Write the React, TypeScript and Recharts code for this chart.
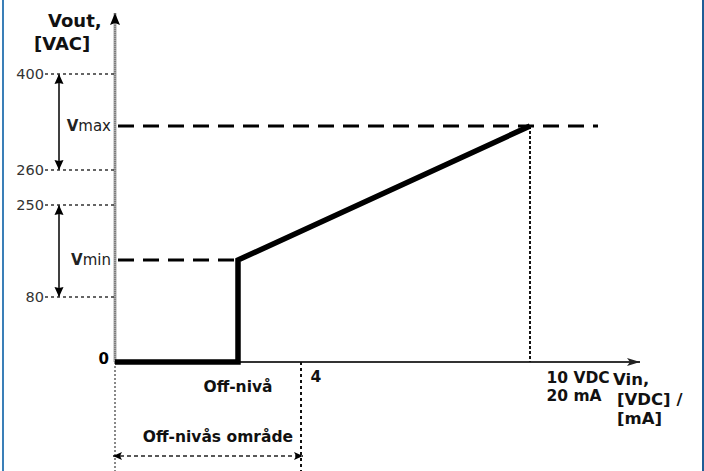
import React from 'react';
import { ComposedChart, Line, XAxis, YAxis, ReferenceLine, ReferenceDot } from 'recharts';

// Diagram values (schematic units along each axis)
const curveX = [0, 123, 123, 415];
const curveY = [0, 0, 102, 236];

const yTickValues = [288, 236, 192, 157, 102, 65, 0];
const yTickLabels = ['400', 'Vmax', '260', '250', 'Vmin', '80', '0'];

const levelValues = [236, 102]; // Vmax, Vmin
const levelEnds = [483, 123];

const xMarkValues = [123, 186, 415]; // off level, 4, 10 VDC
const xMarkLabels = ['Off-nivå', '4', '10 VDC', '20 mA'];

const spanBands = [
  [288, 192],
  [157, 65],
];
const offRange = [0, 186];

const xDomain = [0, 523];
const yDomain = [0, 350];
const axisTips = [525, 349];

const data = curveX.map((x, i) => ({ x, y: curveY[i] }));

const FONT = 'DejaVu Sans';

function head(x: number, y: number, ang: number, len: number, half: number, notch: number, fill: string) {
  const c = Math.cos(ang);
  const s = Math.sin(ang);
  const bx = x - len * c;
  const by = y - len * s;
  const p1 = `${bx - half * s},${by + half * c}`;
  const p2 = `${bx + half * s},${by - half * c}`;
  const n = `${x - (len - notch) * c},${y - (len - notch) * s}`;
  return <polygon points={`${x},${y} ${p1} ${n} ${p2}`} fill={fill} />;
}

type ArrowOpts = {
  stroke: string;
  width: number;
  dash?: string;
  start?: boolean;
  end?: boolean;
  len?: number;
  half?: number;
  notch?: number;
  headFill?: string;
  under?: { stroke: string; width: number; dash?: string };
};

const arrowShape = (o: ArrowOpts) => (p: any) => {
  const { x1, y1, x2, y2 } = p;
  const ang = Math.atan2(y2 - y1, x2 - x1);
  const len = o.len ?? 10;
  const half = o.half ?? 4;
  const notch = o.notch ?? 0;
  const hf = o.headFill ?? '#000';
  return (
    <g>
      {o.under && (
        <line x1={x1} y1={y1} x2={x2} y2={y2} stroke={o.under.stroke} strokeWidth={o.under.width} strokeDasharray={o.under.dash} />
      )}
      <line x1={x1} y1={y1} x2={x2} y2={y2} stroke={o.stroke} strokeWidth={o.width} strokeDasharray={o.dash} />
      {o.end && head(x2, y2, ang, len, half, notch, hf)}
      {o.start && head(x1, y1, ang + Math.PI, len, half, notch, hf)}
    </g>
  );
};

type TextLine = { t: React.ReactNode; dx: number; dy: number; anchor?: string; size?: number; bold?: boolean; fill?: string };
const textShape = (lines: TextLine[]) => (p: any) => (
  <g>
    {lines.map((l, i) => (
      <text
        key={i}
        x={p.cx + l.dx}
        y={p.cy + l.dy}
        textAnchor={l.anchor ?? 'start'}
        fontSize={l.size ?? 15.5}
        fontWeight={l.bold === false ? 'normal' : 'bold'}
        fill={l.fill ?? '#111'}
        fontFamily={FONT}
      >
        {l.t}
      </text>
    ))}
  </g>
);

function YTick(props: any) {
  const { x, y, payload } = props;
  const i = yTickValues.indexOf(payload.value);
  const label = yTickLabels[i];
  if (label === 'Vmax' || label === 'Vmin') {
    return (
      <text x={x - 4} y={y + 4.5} textAnchor="end" fontSize={15} fill="#222" fontFamily={FONT}>
        <tspan fontWeight="bold">V</tspan>
        <tspan>{label.slice(1)}</tspan>
      </text>
    );
  }
  if (label === '0') {
    return (
      <text x={x - 6} y={y + 2} textAnchor="end" fontSize={15} fontWeight="bold" fill="#000" fontFamily={FONT}>
        0
      </text>
    );
  }
  return (
    <g>
      <text x={x - 71} y={y + 5} textAnchor="end" fontSize={14.5} fill="#333" fontFamily={FONT}>
        {label}
      </text>
      <line x1={x - 70} y1={y} x2={x} y2={y} stroke="#333" strokeWidth={1.4} strokeDasharray="3 3" />
    </g>
  );
}

export default function App() {
  return (
    <div style={{ position: 'absolute', left: 0, top: 0, width: 704, height: 471, background: '#fff', fontFamily: FONT }}>
      <div style={{ position: 'absolute', left: 2, top: 0, width: 2, height: 471, background: '#3a7fb8' }} />
      <div style={{ position: 'absolute', left: 702, top: 0, width: 2, height: 471, background: '#1f5d96' }} />
      <ComposedChart width={704} height={471} data={data} margin={{ top: 12, right: 66, bottom: 109, left: 0 }}>
        <XAxis type="number" dataKey="x" domain={xDomain} hide />
        <YAxis
          type="number"
          domain={yDomain}
          ticks={yTickValues}
          interval={0}
          width={115}
          axisLine={false}
          tickLine={false}
          tickSize={0}
          tickMargin={0}
          tick={YTick}
        />

        {/* y axis */}
        <ReferenceLine
          segment={[{ x: 0, y: 0 }, { x: 0, y: axisTips[1] }]}
          ifOverflow="visible"
          shape={arrowShape({ stroke: '#555', width: 1, dash: '1 1', under: { stroke: '#a8a8a8', width: 3 }, end: true, len: 12, half: 5, notch: 2 })}
        />
        {/* left dotted extension below axis */}
        <ReferenceLine
          segment={[{ x: 0, y: 0 }, { x: 0, y: -109 }]}
          ifOverflow="visible"
          shape={arrowShape({ stroke: '#888', width: 2, dash: '2 2' })}
        />
        {/* x axis */}
        <ReferenceLine
          segment={[{ x: 0, y: 0 }, { x: axisTips[0], y: 0 }]}
          ifOverflow="visible"
          shape={arrowShape({ stroke: '#333', width: 2, end: true, len: 13, half: 4, notch: 3, headFill: '#222' })}
        />

        {/* Vmax / Vmin dashed levels */}
        {levelValues.map((v, i) => (
          <ReferenceLine
            key={'lv' + i}
            segment={[{ x: 3, y: v }, { x: levelEnds[i], y: v }]}
            ifOverflow="visible"
            shape={arrowShape({ stroke: '#000', width: 3, dash: '16 9' })}
          />
        ))}

        {/* vertical dotted at 10 VDC */}
        <ReferenceLine
          segment={[{ x: xMarkValues[2], y: levelValues[0] }, { x: xMarkValues[2], y: 0 }]}
          ifOverflow="visible"
          shape={arrowShape({ stroke: '#111', width: 2, dash: '3 2' })}
        />
        {/* vertical dotted at 4 */}
        <ReferenceLine
          segment={[{ x: xMarkValues[1], y: 0 }, { x: xMarkValues[1], y: -109 }]}
          ifOverflow="visible"
          shape={arrowShape({ stroke: '#111', width: 2, dash: '3 3' })}
        />
        {/* off-level range double arrow */}
        <ReferenceLine
          segment={[{ x: offRange[0] - 2, y: -94 }, { x: offRange[1] + 2, y: -94 }]}
          ifOverflow="visible"
          shape={arrowShape({ stroke: '#222', width: 1.5, dash: '4 3', start: true, end: true, len: 9, half: 4, notch: 2 })}
        />
        {/* vertical span arrows */}
        {spanBands.map((b, i) => (
          <ReferenceLine
            key={'sb' + i}
            segment={[{ x: -56, y: b[0] }, { x: -56, y: b[1] }]}
            ifOverflow="visible"
            shape={arrowShape({ stroke: '#000', width: 1.5, start: true, end: true, len: 10, half: 4.5, notch: 1 })}
          />
        ))}

        <Line
          type="linear"
          dataKey="y"
          stroke="#000"
          strokeWidth={5.5}
          strokeLinejoin="miter"
          dot={false}
          activeDot={false}
          isAnimationActive={false}
        />

        {/* axis titles */}
        <ReferenceDot
          x={0}
          y={axisTips[1]}
          r={0}
          ifOverflow="visible"
          shape={textShape([
            { t: 'Vout,', dx: -67, dy: 14, size: 18 },
            { t: '[VAC]', dx: -81, dy: 37, size: 18 },
          ])}
        />
        <ReferenceDot
          x={axisTips[0]}
          y={0}
          r={0}
          ifOverflow="visible"
          shape={textShape([
            { t: 'Vin,', dx: -27, dy: 23, size: 16.5 },
            { t: '[VDC] /', dx: -23, dy: 42.5, size: 16.5 },
            { t: '[mA]', dx: -23, dy: 62, size: 16.5 },
          ])}
        />
        {/* x marks */}
        <ReferenceDot
          x={xMarkValues[0]}
          y={0}
          r={0}
          ifOverflow="visible"
          shape={textShape([{ t: xMarkLabels[0], dx: 0, dy: 30, anchor: 'middle' }])}
        />
        <ReferenceDot
          x={xMarkValues[1]}
          y={0}
          r={0}
          ifOverflow="visible"
          shape={textShape([
            { t: xMarkLabels[1], dx: 9.5, dy: 20 },
            { t: 'Off-nivås område', dx: -8, dy: 80, anchor: 'end' },
          ])}
        />
        <ReferenceDot
          x={xMarkValues[2]}
          y={0}
          r={0}
          ifOverflow="visible"
          shape={textShape([
            { t: xMarkLabels[2], dx: 16.5, dy: 21 },
            { t: xMarkLabels[3], dx: 16.5, dy: 39 },
          ])}
        />
      </ComposedChart>
    </div>
  );
}
